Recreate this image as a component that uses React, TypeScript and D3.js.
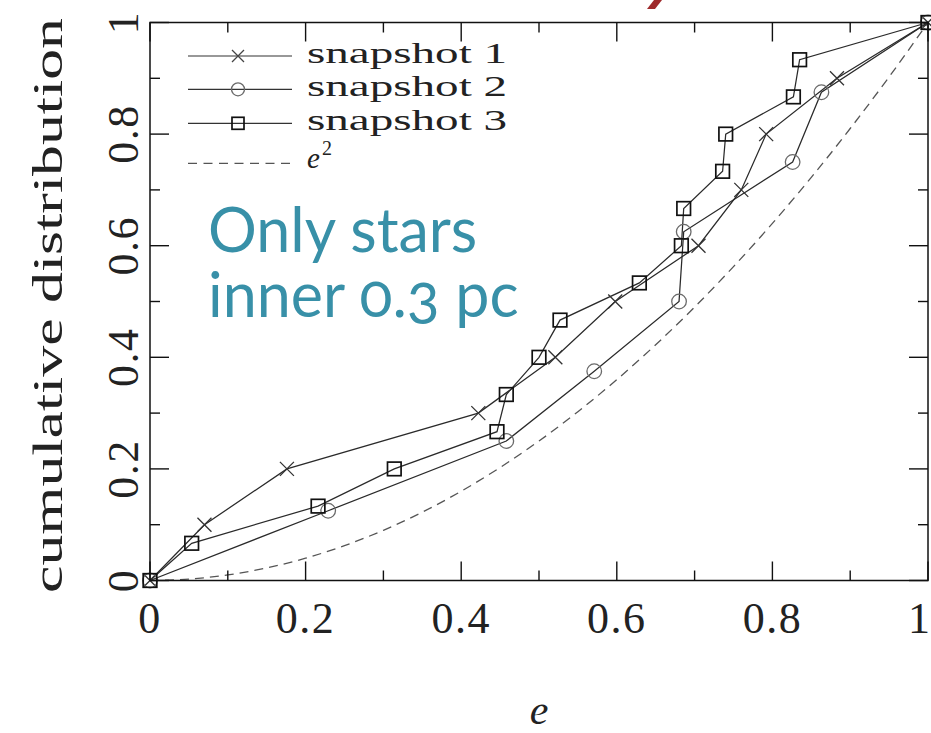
import React from "react";
import * as d3 from "d3";

// ---- data ----
const snap1E = [0, 0.07, 0.176, 0.422, 0.521, 0.598, 0.705, 0.76, 0.792, 0.883, 1];
const snap1F = [0, 0.1, 0.2, 0.3, 0.4, 0.5, 0.6, 0.7, 0.8, 0.9, 1];
const snap2E = [0, 0.229, 0.458, 0.571, 0.68, 0.686, 0.826, 0.863, 1];
const snap2F = [0, 0.125, 0.25, 0.375, 0.5, 0.625, 0.75, 0.875, 1];
const snap3E = [0, 0.0536, 0.216, 0.314, 0.446, 0.458, 0.5, 0.527, 0.629, 0.683, 0.686, 0.736, 0.74, 0.827, 0.835, 1];
const snap3F = [0, 0.0667, 0.1333, 0.2, 0.2667, 0.3333, 0.4, 0.4667, 0.5333, 0.6, 0.6667, 0.7333, 0.8, 0.8667, 0.9333, 1];
const curveE = [0, 0.05, 0.1, 0.15, 0.2, 0.25, 0.3, 0.35, 0.4, 0.45, 0.5, 0.55, 0.6, 0.65, 0.7, 0.75, 0.8, 0.85, 0.9, 0.95, 1];
const curveE2 = [0, 0.0025, 0.01, 0.0225, 0.04, 0.0625, 0.09, 0.1225, 0.16, 0.2025, 0.25, 0.3025, 0.36, 0.4225, 0.49, 0.5625, 0.64, 0.7225, 0.81, 0.9025, 1];
const tickValues = [0, 0.1, 0.2, 0.3, 0.4, 0.5, 0.6, 0.7, 0.8, 0.9, 1];
const tickLabels = ["0", "0.2", "0.4", "0.6", "0.8", "1"];
const labelValues = [0, 0.2, 0.4, 0.6, 0.8, 1];
const legendNames = ["snapshot 1", "snapshot 2", "snapshot 3"];
const xTitle = "e";
const yTitle = "cumulative distribution";
const noteLines = ["Only stars", "inner 0.3 pc"];

const W = 931;
const H = 733;
const serif = "'Liberation Serif', 'Times New Roman', serif";
const ink = "#222";

function Cross({ cx, cy, s = 7, color = "#333" }: any) {
  return (
    <path
      d={`M${cx - s},${cy - s}L${cx + s},${cy + s}M${cx - s},${cy + s}L${cx + s},${cy - s}`}
      stroke={color}
      strokeWidth={1.3}
      fill="none"
    />
  );
}
function Circ({ cx, cy, r = 7.3, color = "#6a6a6a" }: any) {
  return <circle cx={cx} cy={cy} r={r} stroke={color} strokeWidth={1.3} fill="none" />;
}
function Sq({ cx, cy, s = 6.8, color = "#111" }: any) {
  return <rect x={cx - s} y={cy - s} width={2 * s} height={2 * s} stroke={color} strokeWidth={1.7} fill="none" />;
}

export default function App() {
  const x = d3.scaleLinear().domain([0, 1]).range([150, 928]);
  const y = d3.scaleLinear().domain([0, 1]).range([580.5, 22.5]);
  const line = d3
    .line<[number, number]>()
    .x((d) => x(d[0]))
    .y((d) => y(d[1]));
  const smooth = d3
    .line<[number, number]>()
    .x((d) => x(d[0]))
    .y((d) => y(d[1]))
    .curve(d3.curveMonotoneX);

  const s1 = snap1E.map((e, i) => [e, snap1F[i]] as [number, number]);
  const s2 = snap2E.map((e, i) => [e, snap2F[i]] as [number, number]);
  const s3 = snap3E.map((e, i) => [e, snap3F[i]] as [number, number]);
  const c = curveE.map((e, i) => [e, curveE2[i]] as [number, number]);

  const [x0, x1] = x.range();
  const [yb, yt] = y.range();
  const isMajor = (v: number) => Math.round(v * 10) % 2 === 0;

  const legendY = [56, 89.3, 123.3, 163.3];
  const lx0 = 188;
  const lx1 = 292;
  const lmx = 238;
  const ltx = 307;

  return (
    <svg
      width={W}
      height={H}
      style={{ position: "absolute", left: 0, top: 0, background: "#fff" }}
    >
      <rect x={0} y={0} width={W} height={H} fill="#fff" />

      {/* red fragment of slide title */}
      <path d="M654,0 L662,0 L655,9 L647,9 Z" fill="#9e2a2b" />

      {/* e^2 curve */}
      <path d={smooth(c) || ""} fill="none" stroke="#555" strokeWidth={1.3} strokeDasharray="9,6" />

      {/* data lines */}
      <path d={line(s1) || ""} fill="none" stroke="#2a2a2a" strokeWidth={1.25} />
      <path d={line(s2) || ""} fill="none" stroke="#2a2a2a" strokeWidth={1.25} />
      <path d={line(s3) || ""} fill="none" stroke="#2a2a2a" strokeWidth={1.25} />

      {s1.map((d, i) => (
        <Cross key={"a" + i} cx={x(d[0])} cy={y(d[1])} />
      ))}
      {s2.map((d, i) => (
        <Circ key={"b" + i} cx={x(d[0])} cy={y(d[1])} />
      ))}
      {s3.map((d, i) => (
        <Sq key={"c" + i} cx={x(d[0])} cy={y(d[1])} />
      ))}

      {/* frame */}
      <rect x={x0} y={yt} width={x1 - x0} height={yb - yt} fill="none" stroke="#111" strokeWidth={1.5} />

      {/* ticks */}
      {tickValues.map((v, i) => {
        const L = isMajor(v) ? 19 : 10;
        const px = x(v);
        const py = y(v);
        return (
          <g key={"t" + i} stroke="#111" strokeWidth={1.4}>
            <line x1={px} x2={px} y1={yb} y2={yb - L} />
            <line x1={px} x2={px} y1={yt} y2={yt + L} />
            <line x1={x0} x2={x0 + L} y1={py} y2={py} />
            <line x1={x1} x2={x1 - L} y1={py} y2={py} />
          </g>
        );
      })}

      {/* x tick labels */}
      {labelValues.map((v, i) => {
        const last = i === labelValues.length - 1;
        return (
          <text
            key={"xl" + i}
            x={last ? W - 1 : x(v)}
            y={633}
            textAnchor={last ? "end" : "middle"}
            fontFamily={serif}
            fontSize={44}
            fill={ink}
            letterSpacing={last ? 0 : 1.5}
          >
            {tickLabels[i]}
          </text>
        );
      })}

      {/* y tick labels */}
      {labelValues.map((v, i) => (
        <text
          key={"yl" + i}
          transform={`translate(138,${y(v)}) rotate(-90)`}
          textAnchor="middle"
          fontFamily={serif}
          fontSize={44}
          fill={ink}
          letterSpacing={1.5}
        >
          {tickLabels[i]}
        </text>
      ))}

      {/* axis titles */}
      <text
        x={539}
        y={724}
        textAnchor="middle"
        fontFamily={serif}
        fontStyle="italic"
        fontSize={42}
        fill={ink}
      >
        {xTitle}
      </text>
      <text
        transform={`translate(62,${(yt + yb) / 2 + 4}) rotate(-90)`}
        textAnchor="middle"
        fontFamily={serif}
        fontSize={43}
        fill={ink}
        textLength={575}
        lengthAdjust="spacingAndGlyphs"
      >
        {yTitle}
      </text>

      {/* legend */}
      {legendNames.map((name, i) => (
        <g key={"lg" + i}>
          <line x1={lx0} x2={lx1} y1={legendY[i]} y2={legendY[i]} stroke="#333" strokeWidth={1.2} />
          {i === 0 && <Cross cx={lmx} cy={legendY[i]} s={6} color="#444" />}
          {i === 1 && <Circ cx={lmx} cy={legendY[i]} r={6.5} />}
          {i === 2 && <Sq cx={lmx} cy={legendY[i]} s={6} />}
          <text
            x={ltx}
            y={legendY[i] + 7}
            fontFamily={serif}
            fontSize={29}
            fill={ink}
            textLength={200}
            lengthAdjust="spacingAndGlyphs"
          >
            {name}
          </text>
        </g>
      ))}
      <line x1={lx0} x2={lx1} y1={legendY[3]} y2={legendY[3]} stroke="#555" strokeWidth={1.3} strokeDasharray="9,6.5" />
      <text x={ltx} y={legendY[3] + 5} fontFamily={serif} fontSize={29} fill={ink}>
        <tspan fontStyle="italic">e</tspan>
        <tspan dx={2} dy={-13} fontSize={20}>2</tspan>
      </text>

      {/* annotation */}
      <text
        fontFamily="Lato, 'Open Sans', sans-serif"
        fontSize={61}
        fill="#3890a8"
        style={{ fontVariantNumeric: "oldstyle-nums" }}
      >
        {noteLines.map((t, i) => (
          <tspan key={"n" + i} x={208} y={252 + i * 65}>
            {t}
          </tspan>
        ))}
      </text>
    </svg>
  );
}
